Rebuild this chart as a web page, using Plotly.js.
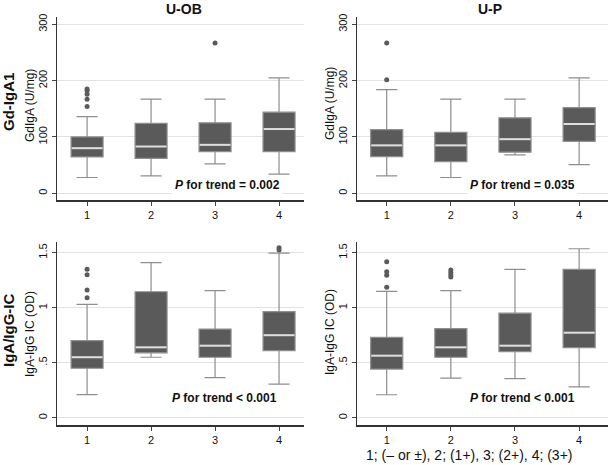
<!DOCTYPE html>
<html>
<head>
<meta charset="utf-8">
<script src="https://cdn.plot.ly/plotly-3.0.1.min.js"></script>
<style>html,body{margin:0;padding:0;background:#fff;}#chart{width:610px;height:465px;}</style>
</head>
<body>
<div id="chart"></div>
<script>
// Categories (grades)
const cats = [1, 2, 3, 4];
const tickLabels = ['1', '2', '3', '4'];

// Panel A: U-OB, Gd-IgA1 (U/mg)
const obG_lo  = [28, 31, 52, 34];
const obG_q1  = [64.5, 62, 74, 74];
const obG_med = [80, 83, 86, 114];
const obG_q3  = [100, 124, 125, 144];
const obG_hi  = [136, 167, 167, 205];
const obG_outX = [1, 1, 1, 1, 1, 3];
const obG_outY = [154, 167, 176, 182, 185, 267];

// Panel B: U-P, Gd-IgA1 (U/mg)
const pG_lo  = [31, 28, 68, 51];
const pG_q1  = [65, 56, 73, 92];
const pG_med = [85, 85, 96, 123];
const pG_q3  = [113, 108, 134, 152];
const pG_hi  = [184, 167, 167, 205];
const pG_outX = [1, 1];
const pG_outY = [201.5, 267];

// Panel C: U-OB, IgA-IgG IC (OD)
const obI_lo  = [0.21, 0.55, 0.364, 0.306];
const obI_q1  = [0.45, 0.59, 0.55, 0.61];
const obI_med = [0.55, 0.64, 0.655, 0.75];
const obI_q3  = [0.70, 1.145, 0.806, 0.964];
const obI_hi  = [1.03, 1.41, 1.155, 1.497];
const obI_outX = [1, 1, 1, 1, 4, 4];
const obI_outY = [1.09, 1.16, 1.30, 1.35, 1.524, 1.545];

// Panel D: U-P, IgA-IgG IC (OD)
const pI_lo  = [0.209, 0.36, 0.355, 0.28];
const pI_q1  = [0.442, 0.55, 0.60, 0.636];
const pI_med = [0.564, 0.64, 0.655, 0.773];
const pI_q3  = [0.73, 0.81, 0.95, 1.348];
const pI_hi  = [1.148, 1.155, 1.348, 1.536];
const pI_outX = [1, 1, 1, 1, 2, 2, 2, 2];
const pI_outY = [1.185, 1.294, 1.327, 1.418, 1.28, 1.30, 1.321, 1.342];

const pTexts = ['<i>P</i> for trend = 0.002', '<i>P</i> for trend = 0.035',
                '<i>P</i> for trend < 0.001', '<i>P</i> for trend < 0.001'];

const BOXW = 0.5;
const FILL = '#5a5a5a';
const WHISK = '#8e8e8e';
const MEDC = '#dedede';

function panel(xa, ya, lo, q1, med, q3, hi, ox, oy) {
  const box = {
    type: 'box', x: cats, q1: q1, median: med, q3: q3,
    lowerfence: lo, upperfence: hi,
    width: BOXW, whiskerwidth: 0.66,
    fillcolor: FILL, line: {color: WHISK, width: 1.2},
    boxpoints: false, xaxis: xa, yaxis: ya, showlegend: false, hoverinfo: 'skip'
  };
  const mx = [], my = [];
  cats.forEach((c, i) => { mx.push(c - BOXW / 2 + 0.01, c + BOXW / 2 - 0.01, null); my.push(med[i], med[i], null); });
  const medTrace = {
    type: 'scatter', mode: 'lines', x: mx, y: my, line: {color: MEDC, width: 2},
    xaxis: xa, yaxis: ya, showlegend: false, hoverinfo: 'skip'
  };
  const out = {
    type: 'scatter', mode: 'markers', x: ox, y: oy,
    marker: {color: '#5a5a5a', size: 5},
    xaxis: xa, yaxis: ya, showlegend: false, hoverinfo: 'skip'
  };
  return [box, medTrace, out];
}

const data = [].concat(
  panel('x', 'y', obG_lo, obG_q1, obG_med, obG_q3, obG_hi, obG_outX, obG_outY),
  panel('x2', 'y2', pG_lo, pG_q1, pG_med, pG_q3, pG_hi, pG_outX, pG_outY),
  panel('x3', 'y3', obI_lo, obI_q1, obI_med, obI_q3, obI_hi, obI_outX, obI_outY),
  panel('x4', 'y4', pI_lo, pI_q1, pI_med, pI_q3, pI_hi, pI_outX, pI_outY)
);

const tickFont = {family: 'Arial, Liberation Sans, sans-serif', size: 11, color: '#111'};
function xax(domain, range, anchor) {
  return {
    domain: domain, range: range, anchor: anchor,
    tickvals: cats, ticktext: tickLabels, ticks: 'outside', ticklen: 4, tickcolor: '#444',
    showline: true, linecolor: '#333', linewidth: 1.5, showgrid: false, zeroline: false,
    tickfont: tickFont, fixedrange: true
  };
}
function yax(domain, range, anchor, vals, texts) {
  return {
    domain: domain, range: range, anchor: anchor,
    tickvals: vals, ticktext: texts, ticks: 'outside', ticklen: 4, tickcolor: '#444',
    tickangle: -90, showline: true, linecolor: '#333', linewidth: 1.5,
    showgrid: true, gridcolor: '#e2e2e2', gridwidth: 1, zeroline: false,
    tickfont: tickFont, fixedrange: true
  };
}
const gVals = [0, 100, 200, 300], gText = ['0', '100', '200', '300'];
const iVals = [0, 0.5, 1, 1.5], iText = ['0', '.5', '1', '1.5'];

const xL = [57/610, 304/610], xR = [357/610, 608/610];
const yT = [1 - 200/465, 1 - 17/465], yB = [1 - 425/465, 1 - 241.7/465];

const ann = [];
const F = 'Arial, Liberation Sans, sans-serif';
function A(text, x, y, opts) {
  ann.push(Object.assign({text: text, x: x, y: y, xref: 'paper', yref: 'paper',
    showarrow: false, xanchor: 'center', yanchor: 'middle',
    font: {family: F, size: 12, color: '#111'}}, opts || {}));
}
A('<b>U-OB</b>', 184/610, 1 - 9/465, {font: {family: F, size: 14, color: '#111'}});
A('<b>U-P</b>', 490/610, 1 - 9/465, {font: {family: F, size: 14, color: '#111'}});
A('<b>Gd-IgA1</b>', 8/610, 1 - 102/465, {textangle: -90, font: {family: F, size: 15, color: '#111'}});
A('<b>IgA/IgG-IC</b>', 8/610, 1 - 331/465, {textangle: -90, font: {family: F, size: 15, color: '#111'}});
A('GdIgA (U/mg)', 30/610, 1 - 106/465, {textangle: -90});
A('IgA-IgG IC (OD)', 30/610, 1 - 334/465, {textangle: -90});
A('GdIgA (U/mg)', 330/610, 1 - 104/465, {textangle: -90});
A('IgA-IgG IC (OD)', 330/610, 1 - 332/465, {textangle: -90});
const pPos = [[227, 185], [522, 185], [224, 398], [522, 398]];
pTexts.forEach((t, i) => A('<b>' + t + '</b>', pPos[i][0]/610, 1 - pPos[i][1]/465,
  {bgcolor: '#ffffff', borderpad: 2, font: {family: F, size: 12, color: '#111'}}));
A('1; (\u2013 or \u00b1), 2; (1+), 3; (2+), 4; (3+)', 469/610, 1 - 455/465,
  {font: {family: F, size: 14, color: '#111'}});

const layout = {
  width: 610, height: 465, margin: {l: 0, r: 0, t: 0, b: 0},
  paper_bgcolor: '#fff', plot_bgcolor: '#fff', showlegend: false, boxmode: 'overlay',
  xaxis: xax(xL, [0.53, 4.39], 'y'),
  yaxis: yax(yT, [-12, 313], 'x', gVals, gText),
  xaxis2: xax(xR, [0.537, 4.45], 'y2'),
  yaxis2: yax(yT, [-12, 313], 'x2', gVals, gText),
  xaxis3: xax(xL, [0.53, 4.39], 'y3'),
  yaxis3: yax(yB, [-0.066, 1.6], 'x3', iVals, iText),
  xaxis4: xax(xR, [0.537, 4.45], 'y4'),
  yaxis4: yax(yB, [-0.066, 1.6], 'x4', iVals, iText),
  annotations: ann
};

Plotly.newPlot('chart', data, layout, {staticPlot: true, displayModeBar: false});
</script>
</body>
</html>
